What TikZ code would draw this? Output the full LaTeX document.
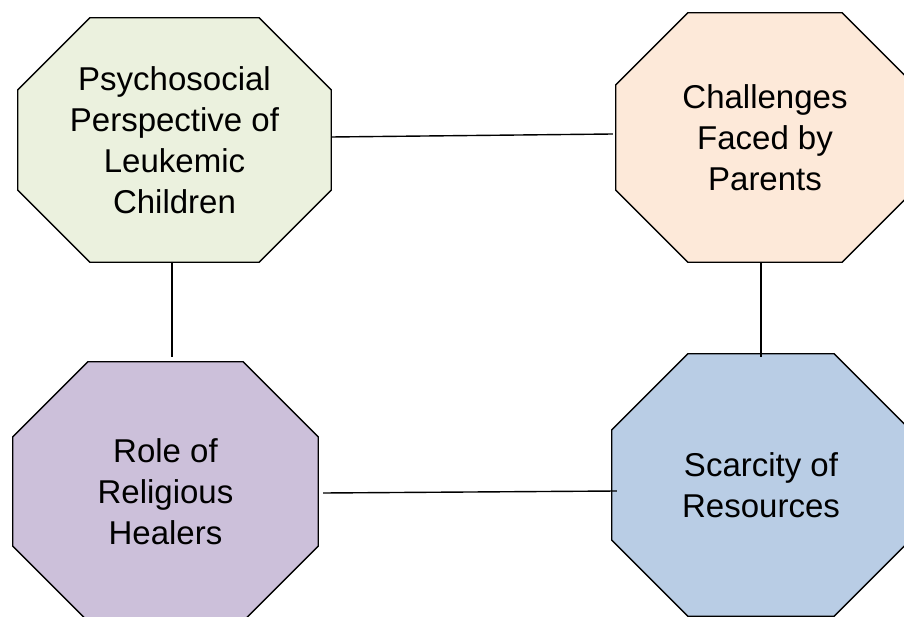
\documentclass[tikz,border=0pt]{standalone}
\usepackage{fontspec}
\setmainfont{Liberation Sans}
\usetikzlibrary{backgrounds}
\definecolor{pgreen}{HTML}{EBF1DE}
\definecolor{porange}{HTML}{FDE9D9}
\definecolor{ppurple}{HTML}{CCC0DA}
\definecolor{pblue}{HTML}{B9CDE5}
\begin{document}
\begin{tikzpicture}[x=1pt, y=-1pt,
  octo/.style={rectangle, inner sep=0pt, align=center, text=black,
    font=\fontsize{33pt}{41pt}\selectfont},
  conn/.style={line width=1.4pt}
]
\useasboundingbox (0,0) rectangle (904,617);
\node[octo, minimum width=313pt, minimum height=244pt] (psycho) at (174.5,140) {Psychosocial\\Perspective of\\Leukemic\\Children};
\node[octo, minimum width=298pt, minimum height=249pt] (parents) at (765,137.5) {Challenges\\Faced by\\Parents};
\node[octo, minimum width=305pt, minimum height=259pt] (healers) at (165.5,491.5) {Role of\\Religious\\Healers};
\node[octo, minimum width=298pt, minimum height=262pt] (scarcity) at (761,485) {Scarcity of\\Resources};

% octagon outlines behind the labels
\begin{scope}[on background layer]
\foreach \n/\c/\k in {psycho/pgreen/72, parents/porange/72, healers/ppurple/75, scarcity/pblue/76}
  \draw[fill=\c, line width=1.3pt]
    ([xshift=\k pt]\n.north west) -- ([xshift=-\k pt]\n.north east)
    -- ([yshift=-\k pt]\n.north east) -- ([yshift=\k pt]\n.south east)
    -- ([xshift=-\k pt]\n.south east) -- ([xshift=\k pt]\n.south west)
    -- ([yshift=\k pt]\n.south west) -- ([yshift=-\k pt]\n.north west) -- cycle;
\end{scope}

\draw[conn] ([yshift=3pt]psycho.east) -- ([xshift=-3pt,yshift=3.5pt]parents.west);
\draw[conn] ([xshift=-2.5pt]psycho.south) -- ([xshift=6.5pt,yshift=5pt]healers.north);
\draw[conn] ([xshift=-4pt]parents.south) -- ([yshift=-3pt]scarcity.north);
\draw[conn] ([xshift=5pt,yshift=-1.5pt]healers.east) -- ([xshift=5pt,yshift=-6pt]scarcity.west);
\end{tikzpicture}
\end{document}
